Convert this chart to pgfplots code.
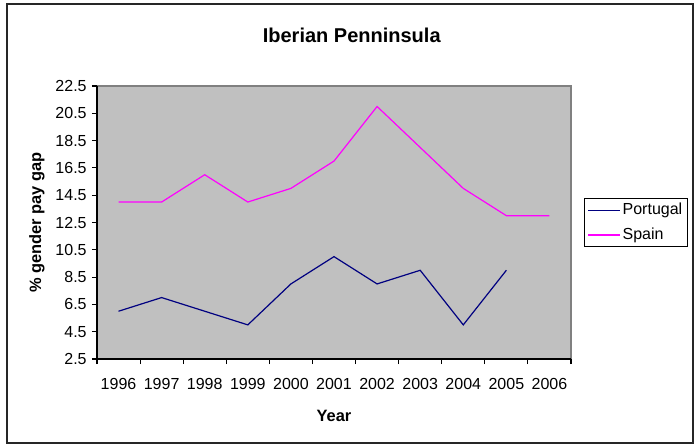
\documentclass[border=0pt]{standalone}
\usepackage{fontspec}
\setmainfont{Liberation Sans}
\usepackage{pgfplots}
\pgfplotsset{compat=1.18}
\definecolor{plotgray}{RGB}{192,192,192}
\definecolor{bordergray}{RGB}{128,128,128}
\definecolor{navy}{RGB}{0,0,128}
\definecolor{spainmag}{RGB}{255,0,255}
\begin{document}
\begin{tikzpicture}
\path[use as bounding box] (0,0) rectangle (522pt,333pt);
\draw[line width=1.2pt, black!85] (5.25pt,0.75pt) rectangle (519.75pt,330pt);
\node[font=\fontsize{15}{18}\selectfont\bfseries] at (263.8pt,306.75pt) {Iberian Penninsula};
\begin{axis}[
  at={(72.75pt,63.75pt)}, anchor=south west,
  scale only axis, width=355.5pt, height=204.75pt,
  xmin=-0.5, xmax=10.5, ymin=2.5, ymax=22.5,
  axis lines*=left,
  axis line style={black, line width=0.8pt, -},
  axis background/.style={fill=plotgray, draw=bordergray, line width=1.3pt},
  xtick={-0.5,0.5,...,10.5},
  x tick label as interval,
  xticklabels={1996,1997,1998,1999,2000,2001,2002,2003,2004,2005,2006},
  ytick={2.5,4.5,...,22.5},
  yticklabel style={/pgf/number format/fixed, /pgf/number format/fixed zerofill, /pgf/number format/precision=1, xshift=-0.5pt},
  /pgf/number format/assume math mode=true,
  tick align=outside, major tick length=3.75pt,
  tick style={black, line width=0.8pt},
  ticklabel style={font=\fontsize{12}{14}\selectfont},
  xticklabel style={yshift=-7pt},
  xlabel={Year}, ylabel={\% gender pay gap},
  every axis x label/.style={at={(axis description cs:0.5,-0.2088)}, anchor=center, font=\fontsize{12.3}{14}\selectfont\bfseries},
  every axis y label/.style={at={(axis description cs:-0.1266,0.5)}, rotate=90, anchor=center, font=\fontsize{12.3}{14}\selectfont\bfseries},
  legend style={at={(1.0274,0.5)}, anchor=west, draw=black, line width=0.8pt, fill=white,
    font=\fontsize{12}{14}\selectfont, row sep=6pt, inner sep=2.5pt,
    nodes={inner sep=1.2pt}},
  legend cell align=left,
  legend image code/.code={\draw[#1, line width=0.9pt] (0pt,0pt) -- (24pt,0pt);},
]
\addplot[navy, line width=0.9pt] coordinates {
 (0,6) (1,7) (2,6) (3,5) (4,8) (5,10) (6,8) (7,9) (8,5) (9,9)};
\addlegendentry{Portugal}
\addplot[spainmag, line width=0.9pt] coordinates {
 (0,14) (1,14) (2,16) (3,14) (4,15) (5,17) (6,21) (7,18) (8,15) (9,13) (10,13)};
\addlegendentry{Spain}
\end{axis}
\end{tikzpicture}
\end{document}
